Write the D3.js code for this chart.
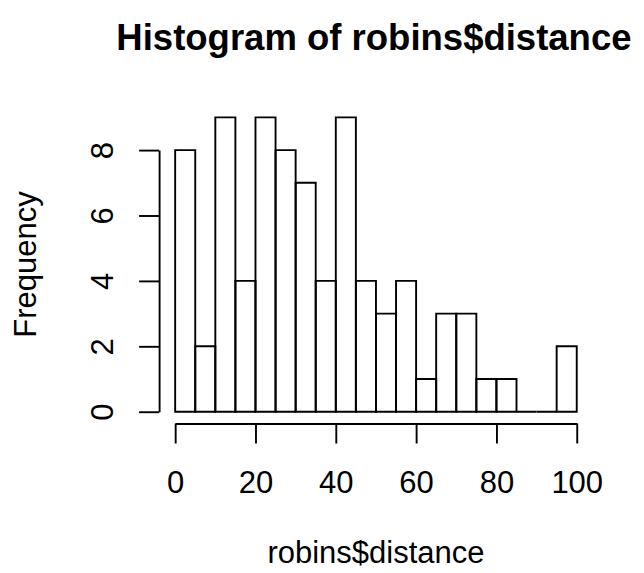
<!DOCTYPE html>
<html>
<head>
<meta charset="utf-8">
<script src="https://cdn.jsdelivr.net/npm/d3@7"></script>
<style>
  body { margin: 0; background: #fff; }
  svg text { font-family: "Liberation Sans", Arial, Helvetica, sans-serif; fill: #000; }
</style>
</head>
<body>
<div id="chart"></div>
<script>
// bin edges, counts per bin, and axis ticks
var breaks = [0, 5, 10, 15, 20, 25, 30, 35, 40, 45, 50, 55, 60, 65, 70, 75, 80, 85, 90, 95, 100];
var counts = [8, 2, 9, 4, 9, 8, 7, 4, 9, 4, 3, 4, 1, 3, 3, 1, 1, 0, 0, 2];
var xTicks = [0, 20, 40, 60, 80, 100];
var yTicks = [0, 2, 4, 6, 8];

var width = 644, height = 573;

var bins = counts.map(function(c, i) { return {x0: breaks[i], x1: breaks[i + 1], n: c}; });

// R pads the usr range by 4% on each side
var xMin = breaks[0], xMax = breaks[breaks.length - 1];
var yMax = d3.max(counts);
var xPad = (xMax - xMin) * 0.04, yPad = yMax * 0.04;

var x = d3.scaleLinear().domain([xMin - xPad, xMax + xPad]).range([159.1, 592.8]);
var y = d3.scaleLinear().domain([-yPad, yMax + yPad]).range([423.5, 105.6]);

var svg = d3.select("#chart").append("svg")
    .attr("width", width)
    .attr("height", height);

svg.append("rect").attr("width", width).attr("height", height).attr("fill", "#fff");

// bars (paths, so that empty bins still show as a flat line)
svg.append("g")
  .selectAll("path")
  .data(bins)
  .enter().append("path")
    .attr("d", function(d) {
      var p = d3.path();
      p.moveTo(x(d.x0), y(0));
      p.lineTo(x(d.x0), y(d.n));
      p.lineTo(x(d.x1), y(d.n));
      p.lineTo(x(d.x1), y(0));
      p.closePath();
      return p.toString();
    })
    .attr("fill", "none")
    .attr("stroke", "#000")
    .attr("stroke-width", 1.9);

// x axis
var xAxisScale = x.copy().domain([xTicks[0], xTicks[xTicks.length - 1]])
    .range([x(xTicks[0]), x(xTicks[xTicks.length - 1])]);
var gx = svg.append("g")
    .attr("transform", "translate(0," + y(-yPad) + ")")
    .call(d3.axisBottom(xAxisScale).tickValues(xTicks).tickSize(20).tickSizeOuter(0).tickFormat(d3.format("d")));
gx.selectAll("path, line").attr("stroke", "#000").attr("stroke-width", 1.9);
gx.selectAll("text")
    .attr("y", 69.4).attr("dy", null)
    .style("font-size", "31px");

// y axis
var yAxisScale = y.copy().domain([yTicks[0], yTicks[yTicks.length - 1]])
    .range([y(yTicks[0]), y(yTicks[yTicks.length - 1])]);
var gy = svg.append("g")
    .attr("transform", "translate(" + x(xMin - xPad) + ",0)")
    .call(d3.axisLeft(yAxisScale).tickValues(yTicks).tickSize(20).tickSizeOuter(0));
gy.selectAll("path, line").attr("stroke", "#000").attr("stroke-width", 1.9);
gy.selectAll("text")
    .attr("x", 0).attr("dy", null)
    .attr("text-anchor", "middle")
    .attr("transform", "translate(-46.3,0) rotate(-90)")
    .style("font-size", "31px");
svg.selectAll(".domain").attr("fill", "none");

var cx = (x.range()[0] + x.range()[1]) / 2;
var cy = (y.range()[0] + y.range()[1]) / 2;

// title
svg.append("text")
    .attr("x", cx - 2)
    .attr("y", 50)
    .attr("text-anchor", "middle")
    .style("font-size", "36.5px")
    .style("font-weight", "bold")
    .text("Histogram of robins$distance");

// x label
svg.append("text")
    .attr("x", cx)
    .attr("y", 563)
    .attr("text-anchor", "middle")
    .style("font-size", "31px")
    .text("robins$distance");

// y label
svg.append("text")
    .attr("transform", "translate(35.8," + cy + ") rotate(-90)")
    .attr("text-anchor", "middle")
    .style("font-size", "31px")
    .text("Frequency");
</script>
</body>
</html>
